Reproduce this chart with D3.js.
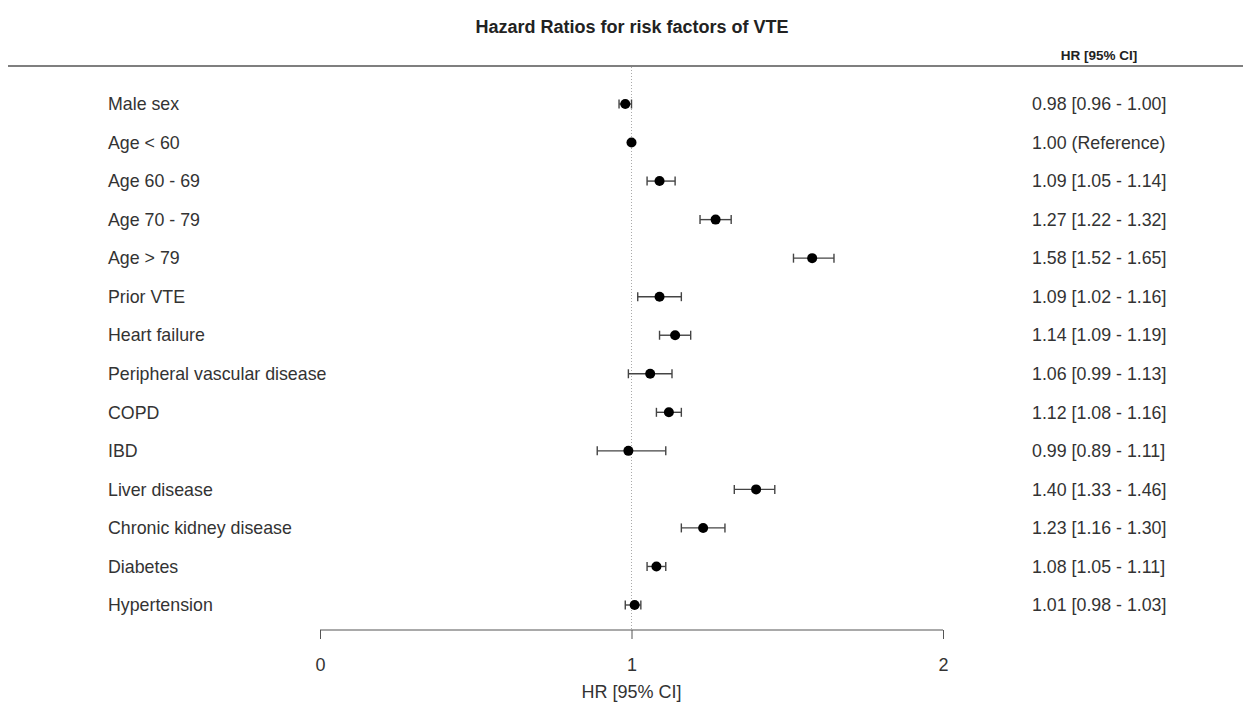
<!DOCTYPE html>
<html>
<head>
<meta charset="utf-8">
<script src="https://cdn.jsdelivr.net/npm/d3@7"></script>
<style>
  body { margin: 0; background: #fff; }
  text { font-family: "Liberation Sans", Arial, sans-serif; }
</style>
</head>
<body>
<svg id="chart" width="1243" height="704"></svg>
<script>
// data
const factors = ["Male sex", "Age < 60", "Age 60 - 69", "Age 70 - 79", "Age > 79", "Prior VTE",
  "Heart failure", "Peripheral vascular disease", "COPD", "IBD", "Liver disease",
  "Chronic kidney disease", "Diabetes", "Hypertension"];
const hr    = [0.98, 1.00, 1.09, 1.27, 1.58, 1.09, 1.14, 1.06, 1.12, 0.99, 1.40, 1.23, 1.08, 1.01];
const lower = [0.96, null, 1.05, 1.22, 1.52, 1.02, 1.09, 0.99, 1.08, 0.89, 1.33, 1.16, 1.05, 0.98];
const upper = [1.00, null, 1.14, 1.32, 1.65, 1.16, 1.19, 1.13, 1.16, 1.11, 1.46, 1.30, 1.11, 1.03];
const xTicks = [0, 1, 2];

const rows = factors.map((name, i) => ({
  name, hr: hr[i], lo: lower[i], hi: upper[i],
  label: lower[i] == null ? hr[i].toFixed(2) + " (Reference)"
    : `${hr[i].toFixed(2)} [${lower[i].toFixed(2)} - ${upper[i].toFixed(2)}]`
}));

const svg = d3.select("#chart");
const x = d3.scaleLinear().domain([0, 2]).range([320, 943]);
const y = d3.scalePoint().domain(factors).range([104, 605]);
const axisY = 630;

// title + header
svg.append("text")
  .attr("x", 632).attr("y", 33)
  .attr("text-anchor", "middle")
  .style("font-size", "18px").style("font-weight", "bold").style("fill", "#222")
  .text("Hazard Ratios for risk factors of VTE");

svg.append("text")
  .attr("x", 1099).attr("y", 60)
  .attr("text-anchor", "middle")
  .style("font-size", "13.5px").style("font-weight", "bold").style("fill", "#222")
  .text("HR [95% CI]");

svg.append("line")
  .attr("x1", 8).attr("x2", 1243).attr("y1", 66).attr("y2", 66)
  .attr("stroke", "#555").attr("stroke-width", 1.3);

// reference line at HR = 1
svg.append("line")
  .attr("x1", x(1)).attr("x2", x(1)).attr("y1", 67).attr("y2", axisY)
  .attr("stroke", "#aaa").attr("stroke-width", 1).attr("stroke-dasharray", "1,2");

// axis
const axis = d3.axisBottom(x).tickValues(xTicks).tickFormat(d3.format("d")).tickSize(9).tickPadding(19);
const gAxis = svg.append("g").attr("transform", `translate(0,${axisY})`).call(axis);
gAxis.select(".domain").attr("stroke", "#555").attr("d", `M${x(0)},0H${x(2)}`);
gAxis.selectAll(".tick line").attr("stroke", "#555");
gAxis.selectAll(".tick text").style("font-size", "18px").style("fill", "#333")
  .style("font-family", "'Liberation Sans', Arial, sans-serif");

svg.append("text")
  .attr("x", x(1)).attr("y", 698)
  .attr("text-anchor", "middle")
  .style("font-size", "18px").style("fill", "#333")
  .text("HR [95% CI]");

// rows
const g = svg.selectAll(".row").data(rows).enter().append("g").attr("class", "row")
  .attr("transform", d => `translate(0,${y(d.name)})`);

g.append("text")
  .attr("x", 108).attr("dy", "0.35em")
  .style("font-size", "17.8px").style("fill", "#333")
  .text(d => d.name);

g.append("text")
  .attr("x", 1032).attr("dy", "0.35em")
  .style("font-size", "17.8px").style("fill", "#333")
  .text(d => d.label);

const ci = g.filter(d => d.lo != null);
ci.append("line")
  .attr("x1", d => x(d.lo)).attr("x2", d => x(d.hi))
  .attr("stroke", "#444").attr("stroke-width", 1.4);
ci.append("line")
  .attr("x1", d => x(d.lo)).attr("x2", d => x(d.lo)).attr("y1", -4.5).attr("y2", 4.5)
  .attr("stroke", "#444").attr("stroke-width", 1.4);
ci.append("line")
  .attr("x1", d => x(d.hi)).attr("x2", d => x(d.hi)).attr("y1", -4.5).attr("y2", 4.5)
  .attr("stroke", "#444").attr("stroke-width", 1.4);

g.append("circle")
  .attr("cx", d => x(d.hr)).attr("r", 5)
  .attr("fill", "#000");
</script>
</body>
</html>
